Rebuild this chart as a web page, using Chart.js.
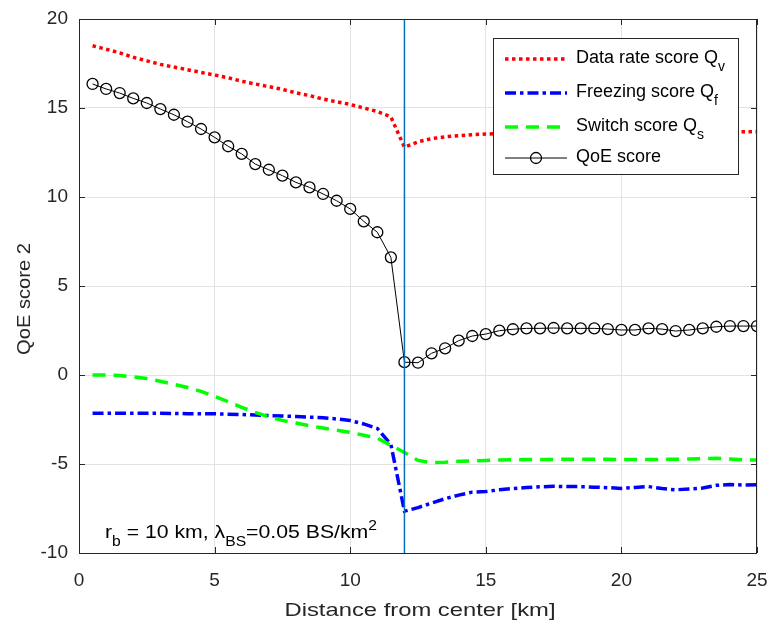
<!DOCTYPE html>
<html>
<head>
<meta charset="utf-8">
<script src="https://cdn.jsdelivr.net/npm/chart.js@4"></script>
<style>
  body { margin: 0; background: #fff; }
  #wrap { width: 772px; height: 622px; }
</style>
</head>
<body>
<div id="wrap"><canvas id="qoeChart" width="772" height="622"></canvas></div>
<script>
// Distance from center [km]
const distance = [
    0.5, 1, 1.5, 2, 2.5, 3, 3.5, 4, 4.5, 5,
    5.5, 6, 6.5, 7, 7.5, 8, 8.5, 9, 9.5, 10,
    10.5, 11, 11.5, 12, 12.5, 13, 13.5, 14, 14.5, 15,
    15.5, 16, 16.5, 17, 17.5, 18, 18.5, 19, 19.5, 20,
    20.5, 21, 21.5, 22, 22.5, 23, 23.5, 24, 24.5, 25
];

const dataRateScore = [
    18.5, 18.3, 18.1, 17.85, 17.65, 17.45, 17.3, 17.15, 17.0, 16.85,
    16.7, 16.5, 16.35, 16.2, 16.05, 15.85, 15.7, 15.5, 15.35, 15.2,
    15.0, 14.8, 14.5, 12.8, 13.1, 13.28, 13.38, 13.45, 13.5, 13.54,
    13.56, 13.58, 13.6, 13.6, 13.62, 13.62, 13.6, 13.6, 13.6, 13.58,
    13.58, 13.6, 13.6, 13.56, 13.6, 13.62, 13.65, 13.68, 13.67, 13.66
];

const freezingScore = [
    -2.15, -2.15, -2.15, -2.15, -2.15, -2.15, -2.16, -2.17, -2.18, -2.18,
    -2.2, -2.22, -2.25, -2.28, -2.3, -2.33, -2.37, -2.4, -2.47, -2.56,
    -2.75, -3.0, -3.9, -7.65, -7.45, -7.2, -6.95, -6.75, -6.58, -6.55,
    -6.45, -6.38, -6.32, -6.28, -6.25, -6.27, -6.27, -6.3, -6.33, -6.37,
    -6.32, -6.27, -6.38, -6.45, -6.4, -6.35, -6.2, -6.15, -6.18, -6.17
];

const switchScore = [
    0.0, 0.0, -0.03, -0.1, -0.2, -0.35, -0.52, -0.7, -0.92, -1.2,
    -1.5, -1.82, -2.1, -2.35, -2.55, -2.7, -2.85, -2.98, -3.1, -3.22,
    -3.38, -3.55, -3.95, -4.35, -4.8, -4.92, -4.9, -4.85, -4.82, -4.8,
    -4.78, -4.76, -4.75, -4.75, -4.74, -4.74, -4.74, -4.73, -4.74, -4.75,
    -4.75, -4.75, -4.74, -4.74, -4.72, -4.7, -4.68, -4.72, -4.76, -4.78
];

const qoeScore = [
    16.35, 16.07, 15.84, 15.54, 15.28, 14.94, 14.62, 14.23, 13.82, 13.35,
    12.85, 12.42, 11.85, 11.53, 11.2, 10.82, 10.54, 10.17, 9.79, 9.33,
    8.63, 8.02, 6.61, 0.72, 0.69, 1.22, 1.5, 1.93, 2.19, 2.3,
    2.49, 2.57, 2.62, 2.62, 2.64, 2.62, 2.62, 2.62, 2.58, 2.53,
    2.53, 2.62, 2.58, 2.47, 2.53, 2.62, 2.71, 2.75, 2.75, 2.75
];

// cell border marker (vertical line)
const borderX = [12, 12];
const borderY = [-10, 20];

const xTicks = [0, 5, 10, 15, 20, 25];
const yTicks = [-10, -5, 0, 5, 10, 15, 20];

const xTitle = 'Distance from center [km]';
const yTitle = 'QoE score 2';
const legendLabels = ['Data rate score Q', 'Freezing score Q', 'Switch score Q', 'QoE score'];
const legendSubs = ['v', 'f', 's', ''];

const FONT = '"Liberation Sans", Arial, Helvetica, sans-serif';
const AXIS_COLOR = '#262626';

function toPoints(xs, ys) {
    return xs.map((x, i) => ({ x: x, y: ys[i] }));
}

function partFont(p, size, subScale) {
    return `${p.sub || p.sup ? Math.round(size * subScale) : size}px ${FONT}`;
}

function richWidth(ctx, parts, size, subScale) {
    let w = 0;
    parts.forEach(p => {
        ctx.font = partFont(p, size, subScale);
        w += ctx.measureText(p.t).width;
    });
    return w;
}

// Draw text with subscript / superscript parts, optionally stretched to a width
function drawRichText(ctx, parts, x, y, size, targetWidth, subScale = 0.72, subDrop = 0.4) {
    const natural = richWidth(ctx, parts, size, subScale);
    const sx = targetWidth ? targetWidth / natural : 1;
    ctx.save();
    ctx.translate(x, y);
    ctx.scale(sx, 1);
    let cx = 0;
    parts.forEach(p => {
        ctx.font = partFont(p, size, subScale);
        let dy = 0;
        if (p.sub) dy = size * subDrop;
        if (p.sup) dy = -size * 0.42;
        ctx.fillText(p.t, cx, dy);
        cx += ctx.measureText(p.t).width;
    });
    ctx.restore();
}

const frameAndLegend = {
    id: 'frameAndLegend',
    afterDatasetsDraw(chart) {
        const ctx = chart.ctx;
        const area = chart.chartArea;
        const xs = chart.scales.x;
        const ys = chart.scales.y;
        ctx.save();

        // box
        ctx.strokeStyle = AXIS_COLOR;
        ctx.lineWidth = 1;
        ctx.strokeRect(area.left + 0.5, area.top + 0.5, area.right - area.left - 1, area.bottom - area.top);

        // inward ticks on all sides
        const tl = 6;
        ctx.beginPath();
        xTicks.forEach(v => {
            const px = Math.round(xs.getPixelForValue(v)) + 0.5;
            ctx.moveTo(px, area.bottom); ctx.lineTo(px, area.bottom - tl);
            ctx.moveTo(px, area.top); ctx.lineTo(px, area.top + tl);
        });
        yTicks.forEach(v => {
            const py = Math.round(ys.getPixelForValue(v)) + 0.5;
            ctx.moveTo(area.left, py); ctx.lineTo(area.left + tl, py);
            ctx.moveTo(area.right, py); ctx.lineTo(area.right - tl, py);
        });
        ctx.stroke();

        // axis titles
        ctx.fillStyle = AXIS_COLOR;
        ctx.textBaseline = 'alphabetic';
        ctx.textAlign = 'left';
        const xMid = (area.left + area.right) / 2;
        const xTitleW = 271;
        drawRichText(ctx, [{ t: xTitle }], xMid + 2 - xTitleW / 2, 616, 19, xTitleW);

        const yMid = (area.top + area.bottom) / 2;
        const yTitleW = 112;
        ctx.save();
        ctx.translate(30, yMid + 13);
        ctx.rotate(-Math.PI / 2);
        drawRichText(ctx, [{ t: yTitle }], -yTitleW / 2, 0, 19, yTitleW);
        ctx.restore();

        // annotation
        ctx.fillStyle = '#000';
        drawRichText(ctx, [
            { t: 'r' }, { t: 'b', sub: true }, { t: ' = 10 km, \u03bb' },
            { t: 'BS', sub: true }, { t: '=0.05 BS/km' }, { t: '2', sup: true }
        ], 105, 538, 19, 272);

        // legend box
        const lx = 493, ly = 38, lw = 245, lh = 136;
        ctx.fillStyle = '#fff';
        ctx.fillRect(lx, ly, lw, lh);
        ctx.strokeStyle = AXIS_COLOR;
        ctx.lineWidth = 1;
        ctx.strokeRect(lx + 0.5, ly + 0.5, lw, lh);

        const rowsY = [59, 93, 127, 158];
        [0, 1, 2, 3].forEach((di, r) => {
            const ds = chart.data.datasets[di];
            const y = rowsY[r];
            ctx.save();
            ctx.strokeStyle = ds.borderColor;
            ctx.lineWidth = ds.borderWidth;
            ctx.setLineDash(ds.borderDash || []);
            ctx.beginPath();
            ctx.moveTo(505, y);
            ctx.lineTo(567, y);
            ctx.stroke();
            ctx.restore();
            if (ds.pointRadius > 0) {
                ctx.beginPath();
                ctx.strokeStyle = ds.pointBorderColor;
                ctx.lineWidth = ds.pointBorderWidth;
                ctx.arc(536, y, ds.pointRadius, 0, Math.PI * 2);
                ctx.stroke();
            }
            ctx.fillStyle = '#000';
            ctx.textBaseline = 'middle';
            const parts = [{ t: legendLabels[r] }];
            if (legendSubs[r]) parts.push({ t: legendSubs[r], sub: true });
            drawRichText(ctx, parts, 576, y - 1, 18, null, 0.8, 0.5);
        });
        ctx.restore();
    }
};

const ctx = document.getElementById('qoeChart').getContext('2d');

new Chart(ctx, {
    type: 'line',
    data: {
        datasets: [
            {
                label: 'Data rate score Qv',
                data: toPoints(distance, dataRateScore),
                borderColor: '#ff0000',
                borderWidth: 3.5,
                borderDash: [3.5, 3.5],
                pointRadius: 0,
                order: 5
            },
            {
                label: 'Freezing score Qf',
                data: toPoints(distance, freezingScore),
                borderColor: '#0000ff',
                borderWidth: 3.5,
                borderDash: [11, 4, 3.5, 4],
                pointRadius: 0,
                order: 4
            },
            {
                label: 'Switch score Qs',
                data: toPoints(distance, switchScore),
                borderColor: '#00ff00',
                borderWidth: 3.5,
                borderDash: [13, 8],
                pointRadius: 0,
                order: 3
            },
            {
                label: 'QoE score',
                data: toPoints(distance, qoeScore),
                borderColor: '#000000',
                borderWidth: 1,
                pointRadius: 5.5,
                pointBorderWidth: 1.3,
                pointBorderColor: '#000000',
                pointBackgroundColor: 'rgba(0,0,0,0)',
                order: 2
            },
            {
                label: 'border',
                data: toPoints(borderX, borderY),
                borderColor: '#0072bd',
                borderWidth: 1.5,
                pointRadius: 0,
                order: 1
            }
        ]
    },
    options: {
        responsive: false,
        animation: false,
        layout: {
            padding: { top: 19, right: 15, left: 0, bottom: 0 }
        },
        plugins: {
            legend: { display: false },
            tooltip: { enabled: false }
        },
        scales: {
            x: {
                type: 'linear',
                min: 0,
                max: 25,
                afterFit: s => { s.height = 69; s.paddingLeft = 0; s.paddingRight = 0; },
                afterBuildTicks: s => { s.ticks = xTicks.map(v => ({ value: v })); },
                ticks: {
                    color: AXIS_COLOR,
                    padding: 16,
                    font: { family: FONT, size: 19 }
                },
                grid: {
                    color: '#e3e3e3',
                    drawTicks: false
                },
                border: { display: false }
            },
            y: {
                type: 'linear',
                min: -10,
                max: 20,
                afterFit: s => { s.width = 79; s.paddingTop = 0; s.paddingBottom = 0; },
                afterBuildTicks: s => { s.ticks = yTicks.map(v => ({ value: v })); },
                ticks: {
                    color: AXIS_COLOR,
                    padding: 11,
                    font: { family: FONT, size: 19 }
                },
                grid: {
                    color: '#e3e3e3',
                    drawTicks: false
                },
                border: { display: false }
            }
        }
    },
    plugins: [frameAndLegend]
});
</script>
</body>
</html>
